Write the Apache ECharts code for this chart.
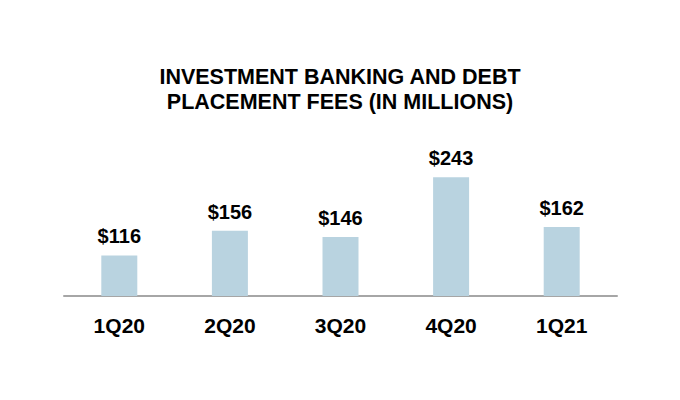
<!DOCTYPE html>
<html>
<head>
<meta charset="utf-8">
<script src="https://cdn.jsdelivr.net/npm/echarts@6/dist/echarts.min.js"></script>
<style>
  html, body { margin: 0; padding: 0; background: #fff; }
  #chart { width: 680px; height: 400px; }
</style>
</head>
<body>
<div id="chart"></div>
<script>
const titleLines = ['INVESTMENT BANKING AND DEBT', 'PLACEMENT FEES (IN MILLIONS)'];
const quarters = ['1Q20', '2Q20', '3Q20', '4Q20', '1Q21'];
const fees = [116, 156, 146, 243, 162];

const font = 'Liberation Sans, Arial, sans-serif';

const chart = echarts.init(document.getElementById('chart'), null, { renderer: 'svg' });
chart.setOption({
  animation: false,
  title: {
    text: titleLines.join('\n'),
    left: 'center',
    top: 59,
    textStyle: {
      fontFamily: font,
      fontSize: 21.5,
      fontWeight: 'bold',
      color: '#000',
      lineHeight: 25
    }
  },
  grid: { left: 64, right: 63, top: 173, bottom: 104 },
  xAxis: {
    type: 'category',
    data: quarters,
    axisLine: { lineStyle: { color: '#a6a6a6', width: 2 } },
    axisTick: { show: false },
    axisLabel: {
      margin: 19,
      fontFamily: font,
      fontSize: 21,
      fontWeight: 'bold',
      color: '#000'
    }
  },
  yAxis: {
    type: 'value',
    min: 50,
    max: 250,
    show: false,
    splitLine: { show: false }
  },
  series: [{
    type: 'bar',
    data: fees,
    barWidth: 36,
    itemStyle: { color: '#b9d3e0' },
    label: {
      show: true,
      position: 'top',
      distance: 9,
      formatter: p => '$' + p.value,
      fontFamily: font,
      fontSize: 20,
      fontWeight: 'bold',
      color: '#000'
    }
  }]
});
</script>
</body>
</html>
